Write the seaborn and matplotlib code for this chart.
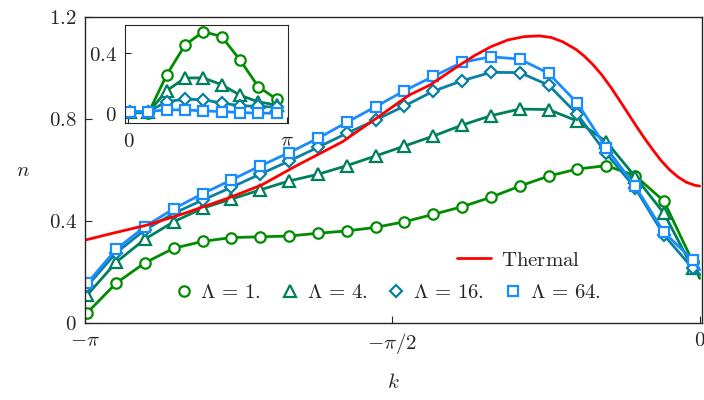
import matplotlib
matplotlib.use('Agg')
import matplotlib.pyplot as plt
from matplotlib.lines import Line2D
import numpy as np
import pandas as pd
import seaborn as sns

# momenta of the markers (main panel) and the extra line end at k = 0
k_main = list(np.linspace(-3.13, -0.035, 22)) + [0.0]

n_lam1 = [0.040, 0.156, 0.236, 0.293, 0.320, 0.335, 0.338, 0.341, 0.352, 0.361, 0.375,
          0.397, 0.426, 0.456, 0.493, 0.537, 0.576, 0.604, 0.617, 0.578, 0.478, 0.240, 0.175]
n_lam4 = [0.110, 0.238, 0.329, 0.397, 0.450, 0.486, 0.522, 0.557, 0.583, 0.617, 0.655,
          0.694, 0.733, 0.776, 0.813, 0.839, 0.837, 0.792, 0.711, 0.574, 0.430, 0.215, 0.190]
n_lam16 = [0.145, 0.275, 0.365, 0.430, 0.482, 0.532, 0.584, 0.635, 0.689, 0.744, 0.796,
           0.851, 0.909, 0.950, 0.983, 0.982, 0.933, 0.818, 0.665, 0.530, 0.345, 0.214, 0.190]
n_lam64 = [0.156, 0.289, 0.378, 0.448, 0.507, 0.561, 0.616, 0.668, 0.724, 0.787, 0.848,
           0.911, 0.967, 1.022, 1.044, 1.035, 0.979, 0.862, 0.687, 0.537, 0.356, 0.247, 0.208]

k_thermal = [-3.142, -3.0, -2.825, -2.657, -2.412, -2.239, -2.070, -1.825, -1.652, -1.484,
             -1.381, -1.239, -1.152, -1.065, -0.980, -0.897, -0.820, -0.760, -0.700, -0.632,
             -0.590, -0.545, -0.500, -0.458, -0.415, -0.371, -0.328, -0.284, -0.240, -0.198,
             -0.155, -0.111, -0.068, -0.024, 0.0]
n_thermal = [0.325, 0.352, 0.384, 0.424, 0.489, 0.541, 0.613, 0.711, 0.803, 0.894,
             0.932, 1.005, 1.048, 1.084, 1.110, 1.123, 1.126, 1.120, 1.103, 1.073,
             1.047, 1.013, 0.973, 0.929, 0.880, 0.828, 0.777, 0.727, 0.680, 0.638,
             0.602, 0.573, 0.552, 0.540, 0.537]

# inset: 0 .. pi
k_inset = [0.034, 0.397, 0.760, 1.124, 1.488, 1.851, 2.214, 2.577, 2.940]
in_lam1 = [0.005, 0.000, 0.255, 0.455, 0.544, 0.511, 0.355, 0.177, 0.093]
in_lam4 = [0.005, 0.005, 0.150, 0.235, 0.235, 0.190, 0.120, 0.075, 0.055]
in_lam16 = [0.010, 0.010, 0.077, 0.093, 0.090, 0.067, 0.050, 0.045, 0.040]
in_lam64 = [0.007, 0.011, 0.022, 0.022, 0.015, 0.011, 0.004, 0.000, 0.000]

labels = [r'$\Lambda\, =\, 1.$', r'$\Lambda\, =\, 4.$', r'$\Lambda\, =\, 16.$', r'$\Lambda\, =\, 64.$']
colors = ['#008c00', '#00805a', '#0a80a0', '#1a8cff']
markers = ['o', '^', 'D', 's']
msizes = [7.5, 8, 6.5, 7.5]

sns.set_style('ticks')
plt.rcParams['mathtext.fontset'] = 'cm'
plt.rcParams['font.family'] = ['DejaVu Serif']
plt.rcParams['xtick.direction'] = 'in'
plt.rcParams['ytick.direction'] = 'in'
plt.rcParams['axes.linewidth'] = 1.0

fig = plt.figure(figsize=(7.04, 4.0), dpi=100)
ax = fig.add_axes([0.1207, 0.1925, 0.8764, 0.765])

main_series = [n_lam1, n_lam4, n_lam16, n_lam64]
for vals, c, m, ms in zip(main_series, colors, markers, msizes):
    df = pd.DataFrame({'k': k_main, 'n': vals})
    sns.lineplot(data=df, x='k', y='n', ax=ax, color=c, lw=2, sort=False,
                 marker=m, markersize=ms, markerfacecolor='white',
                 markeredgecolor=c, markeredgewidth=1.6, markevery=list(range(22)))

df_th = pd.DataFrame({'k': k_thermal, 'n': n_thermal})
sns.lineplot(data=df_th, x='k', y='n', ax=ax, color='#ff0000', lw=2, sort=False)

ax.set_xlim(-np.pi, 0.012)
ax.set_ylim(0, 1.2)
ax.set_xticks([-np.pi, -np.pi / 2, 0])
ax.set_xticklabels([r'$-\pi$', r'$-\pi/2$', r'$0$'])
ax.set_yticks([0, 0.4, 0.8, 1.2])
ax.set_yticklabels([r'$0$', r'$0.4$', r'$0.8$', r'$1.2$'])
ax.tick_params(labelsize=15, length=5, pad=6)
ax.set_xlabel(r'$k$', fontsize=15, labelpad=12)
ax.set_ylabel(r'$n$', fontsize=15, rotation=0, va='center')
ax.yaxis.set_label_coords(-0.1, 0.5)

h_lam = [Line2D([], [], ls='none', marker=m, ms=ms, mfc='white', mec=c, mew=1.6)
         for c, m, ms in zip(colors, markers, msizes)]
leg1 = ax.legend(h_lam, labels, ncol=4, loc='center left', bbox_to_anchor=(0.116, 0.10),
                 frameon=False, fontsize=15, handlelength=0.8, handletextpad=0.4,
                 columnspacing=1.0)
ax.add_artist(leg1)
h_th = [Line2D([], [], color='#ff0000', lw=2)]
ax.legend(h_th, [r'$\mathrm{Thermal}$'], loc='center', bbox_to_anchor=(0.703, 0.205),
          frameon=False, fontsize=15, handlelength=1.6, handletextpad=0.5)

# inset
axi = fig.add_axes([0.1776, 0.692, 0.232, 0.2458])
inset_series = [in_lam1, in_lam4, in_lam16, in_lam64]
for vals, c, m, ms in zip(inset_series, colors, markers, msizes):
    df = pd.DataFrame({'k': k_inset, 'n': vals})
    sns.lineplot(data=df, x='k', y='n', ax=axi, color=c, lw=2, sort=False,
                 marker=m, markersize=ms, markerfacecolor='white',
                 markeredgecolor=c, markeredgewidth=1.6)
axi.set_xlim(-0.066, np.pi + 0.032)
axi.set_ylim(-0.067, 0.589)
axi.set_xticks([0, np.pi])
axi.set_xticklabels([r'$0$', r'$\pi$'])
axi.set_yticks([0, 0.4])
axi.set_yticklabels([r'$0$', r'$0.4$'])
axi.tick_params(labelsize=15, length=4, pad=6)
axi.set_xlabel('')
axi.set_ylabel('')
for s in axi.spines.values():
    s.set_linewidth(0.8)

fig.savefig('out.png', dpi=100)
